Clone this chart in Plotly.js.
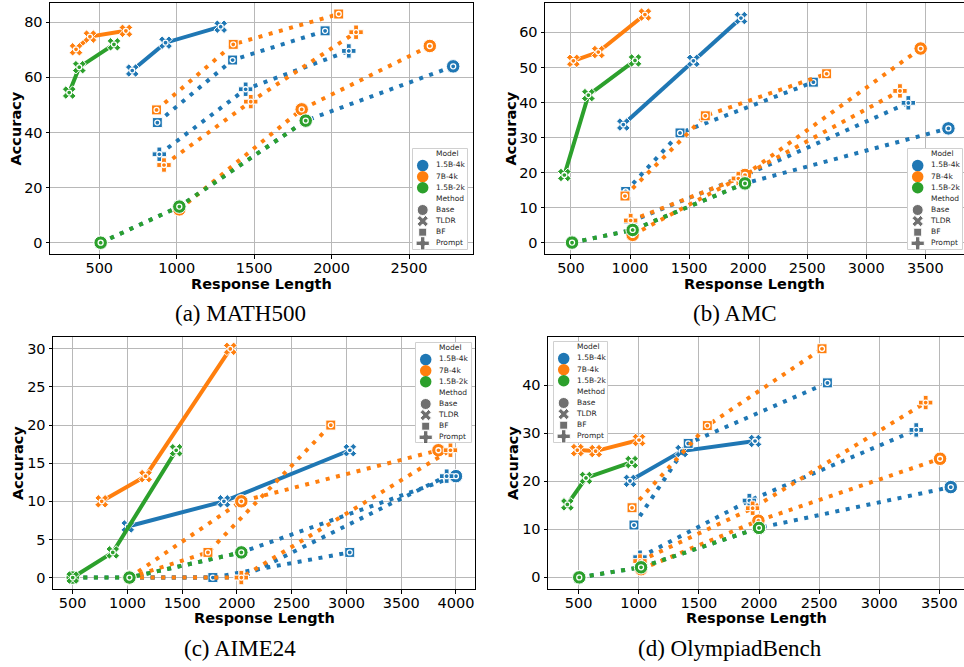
<!DOCTYPE html>
<html><head><meta charset="utf-8">
<script src="https://cdn.plot.ly/plotly-3.0.1.min.js"></script>
<style>html,body{margin:0;padding:0;background:#fff}#chart{width:964px;height:667px}</style>
</head><body><div id="chart"></div>
<script>
// ---------- categories ----------
const models = ['1.5B-4k', '7B-4k', '1.5B-2k'];
const methods = ['Base', 'TLDR', 'BF', 'Prompt'];
const benchmarks = ['MATH500', 'AMC', 'AIME24', 'OlympiadBench'];
const captions = ['(a) MATH500', '(b) AMC', '(c) AIME24', '(d) OlympiadBench'];
const xTitle = 'Response Length';
const yTitle = 'Accuracy';

// ---------- MATH500 ----------
const math_15b4k_base_len = [509, 1017, 1833, 2785];
const math_15b4k_base_acc = [0, 13.1, 44.3, 64.0];
const math_15b4k_tldr_len = [713, 928, 1284];
const math_15b4k_tldr_acc = [62.5, 72.6, 78.4];
const math_15b4k_bf_len = [875, 1361, 1958];
const math_15b4k_bf_acc = [43.6, 66.3, 76.9];
const math_15b4k_prompt_len = [888, 1445, 2111];
const math_15b4k_prompt_acc = [32.1, 55.7, 69.6];
const math_7b4k_base_len = [1017, 1807, 2634];
const math_7b4k_base_acc = [12.1, 48.4, 71.4];
const math_7b4k_tldr_len = [350, 440, 672];
const math_7b4k_tldr_acc = [70.2, 74.8, 76.9];
const math_7b4k_bf_len = [870, 1365, 2046];
const math_7b4k_bf_acc = [48.2, 72.0, 83.0];
const math_7b4k_prompt_len = [918, 1478, 2158];
const math_7b4k_prompt_acc = [28.2, 51.2, 76.4];
const math_15b2k_base_len = [509, 1017, 1833];
const math_15b2k_base_acc = [0, 13.1, 44.3];
const math_15b2k_tldr_len = [306, 371, 595];
const math_15b2k_tldr_acc = [54.5, 63.7, 72.0];

// ---------- AMC ----------
const amc_15b4k_base_len = [509, 1022, 1973, 3695];
const amc_15b4k_base_acc = [0, 3.6, 16.9, 32.6];
const amc_15b4k_tldr_len = [943, 1536, 1939];
const amc_15b4k_tldr_acc = [33.7, 51.9, 64.1];
const amc_15b4k_bf_len = [963, 1423, 2552];
const amc_15b4k_bf_acc = [14.6, 31.3, 45.8];
const amc_15b4k_prompt_len = [1005, 1960, 3356];
const amc_15b4k_prompt_acc = [6.0, 19.0, 39.9];
const amc_7b4k_base_len = [1022, 1973, 3460];
const amc_7b4k_base_acc = [2.2, 19.3, 55.4];
const amc_7b4k_tldr_len = [520, 731, 1126];
const amc_7b4k_tldr_acc = [51.9, 54.4, 65.1];
const amc_7b4k_bf_len = [957, 1637, 2664];
const amc_7b4k_bf_acc = [13.3, 36.2, 48.2];
const amc_7b4k_prompt_len = [1005, 1917, 3285];
const amc_7b4k_prompt_acc = [6.3, 18.3, 43.3];
const amc_15b2k_base_len = [509, 1022, 1973];
const amc_15b2k_base_acc = [0, 3.6, 16.9];
const amc_15b2k_tldr_len = [444, 647, 1042];
const amc_15b2k_tldr_acc = [19.3, 42.1, 52.0];

// ---------- AIME24 ----------
const aime_15b4k_base_len = [500, 1018, 2040, 4000];
const aime_15b4k_base_acc = [0, 0, 3.3, 13.3];
const aime_15b4k_tldr_len = [1003, 1881, 3031];
const aime_15b4k_tldr_acc = [6.7, 10.0, 16.7];
const aime_15b4k_bf_len = [1018, 1780, 3030];
const aime_15b4k_bf_acc = [0, 0, 3.3];
const aime_15b4k_prompt_len = [1018, 2040, 3915];
const aime_15b4k_prompt_acc = [0, 0, 13.3];
const aime_7b4k_base_len = [1018, 2040, 3840];
const aime_7b4k_base_acc = [0, 10.0, 16.7];
const aime_7b4k_tldr_len = [765, 1165, 1939];
const aime_7b4k_tldr_acc = [10.0, 13.3, 30.0];
const aime_7b4k_bf_len = [1018, 1735, 2857];
const aime_7b4k_bf_acc = [0, 3.3, 20.0];
const aime_7b4k_prompt_len = [1018, 2040, 3950];
const aime_7b4k_prompt_acc = [0, 0, 16.7];
const aime_15b2k_base_len = [500, 1018, 2040];
const aime_15b2k_base_acc = [0, 0, 3.3];
const aime_15b2k_tldr_len = [500, 866, 1445];
const aime_15b2k_tldr_acc = [0, 3.3, 16.7];

// ---------- OlympiadBench ----------
const oly_15b4k_base_len = [505, 1019, 2000, 3595];
const oly_15b4k_base_acc = [0, 2.1, 10.3, 18.8];
const oly_15b4k_tldr_len = [927, 1357, 1967];
const oly_15b4k_tldr_acc = [20.1, 26.3, 28.4];
const oly_15b4k_bf_len = [960, 1411, 2569];
const oly_15b4k_bf_acc = [10.9, 27.9, 40.5];
const oly_15b4k_prompt_len = [1010, 1920, 3308];
const oly_15b4k_prompt_acc = [4.2, 16.0, 30.7];
const oly_7b4k_base_len = [1019, 1995, 3506];
const oly_7b4k_base_acc = [1.7, 11.8, 24.7];
const oly_7b4k_tldr_len = [489, 641, 1002];
const oly_7b4k_tldr_acc = [26.5, 26.3, 28.6];
const oly_7b4k_bf_len = [944, 1570, 2524];
const oly_7b4k_bf_acc = [14.5, 31.6, 47.6];
const oly_7b4k_prompt_len = [1010, 1947, 3386];
const oly_7b4k_prompt_acc = [3.4, 14.4, 36.4];
const oly_15b2k_base_len = [505, 1019, 2000];
const oly_15b2k_base_acc = [0, 2.1, 10.3];
const oly_15b2k_tldr_len = [406, 561, 941];
const oly_15b2k_tldr_acc = [15.2, 20.7, 24.0];

// ---------- tick labels ----------
const math_xticks = [500, 1000, 1500, 2000, 2500];
const math_yticks = [0, 20, 40, 60, 80];
const amc_xticks = [500, 1000, 1500, 2000, 2500, 3000, 3500];
const amc_yticks = [0, 10, 20, 30, 40, 50, 60];
const aime_xticks = [500, 1000, 1500, 2000, 2500, 3000, 3500, 4000];
const aime_yticks = [0, 5, 10, 15, 20, 25, 30];
const oly_xticks = [500, 1000, 1500, 2000, 2500, 3000, 3500];
const oly_yticks = [0, 10, 20, 30, 40];

// ---------- table built from the arrays ----------
const table = {
  'MATH500': {
    '1.5B-4k': {Base: [math_15b4k_base_len, math_15b4k_base_acc], TLDR: [math_15b4k_tldr_len, math_15b4k_tldr_acc], BF: [math_15b4k_bf_len, math_15b4k_bf_acc], Prompt: [math_15b4k_prompt_len, math_15b4k_prompt_acc]},
    '7B-4k': {Base: [math_7b4k_base_len, math_7b4k_base_acc], TLDR: [math_7b4k_tldr_len, math_7b4k_tldr_acc], BF: [math_7b4k_bf_len, math_7b4k_bf_acc], Prompt: [math_7b4k_prompt_len, math_7b4k_prompt_acc]},
    '1.5B-2k': {Base: [math_15b2k_base_len, math_15b2k_base_acc], TLDR: [math_15b2k_tldr_len, math_15b2k_tldr_acc]}
  },
  'AMC': {
    '1.5B-4k': {Base: [amc_15b4k_base_len, amc_15b4k_base_acc], TLDR: [amc_15b4k_tldr_len, amc_15b4k_tldr_acc], BF: [amc_15b4k_bf_len, amc_15b4k_bf_acc], Prompt: [amc_15b4k_prompt_len, amc_15b4k_prompt_acc]},
    '7B-4k': {Base: [amc_7b4k_base_len, amc_7b4k_base_acc], TLDR: [amc_7b4k_tldr_len, amc_7b4k_tldr_acc], BF: [amc_7b4k_bf_len, amc_7b4k_bf_acc], Prompt: [amc_7b4k_prompt_len, amc_7b4k_prompt_acc]},
    '1.5B-2k': {Base: [amc_15b2k_base_len, amc_15b2k_base_acc], TLDR: [amc_15b2k_tldr_len, amc_15b2k_tldr_acc]}
  },
  'AIME24': {
    '1.5B-4k': {Base: [aime_15b4k_base_len, aime_15b4k_base_acc], TLDR: [aime_15b4k_tldr_len, aime_15b4k_tldr_acc], BF: [aime_15b4k_bf_len, aime_15b4k_bf_acc], Prompt: [aime_15b4k_prompt_len, aime_15b4k_prompt_acc]},
    '7B-4k': {Base: [aime_7b4k_base_len, aime_7b4k_base_acc], TLDR: [aime_7b4k_tldr_len, aime_7b4k_tldr_acc], BF: [aime_7b4k_bf_len, aime_7b4k_bf_acc], Prompt: [aime_7b4k_prompt_len, aime_7b4k_prompt_acc]},
    '1.5B-2k': {Base: [aime_15b2k_base_len, aime_15b2k_base_acc], TLDR: [aime_15b2k_tldr_len, aime_15b2k_tldr_acc]}
  },
  'OlympiadBench': {
    '1.5B-4k': {Base: [oly_15b4k_base_len, oly_15b4k_base_acc], TLDR: [oly_15b4k_tldr_len, oly_15b4k_tldr_acc], BF: [oly_15b4k_bf_len, oly_15b4k_bf_acc], Prompt: [oly_15b4k_prompt_len, oly_15b4k_prompt_acc]},
    '7B-4k': {Base: [oly_7b4k_base_len, oly_7b4k_base_acc], TLDR: [oly_7b4k_tldr_len, oly_7b4k_tldr_acc], BF: [oly_7b4k_bf_len, oly_7b4k_bf_acc], Prompt: [oly_7b4k_prompt_len, oly_7b4k_prompt_acc]},
    '1.5B-2k': {Base: [oly_15b2k_base_len, oly_15b2k_base_acc], TLDR: [oly_15b2k_tldr_len, oly_15b2k_tldr_acc]}
  }
};
const ticks = {
  'MATH500': [math_xticks, math_yticks],
  'AMC': [amc_xticks, amc_yticks],
  'AIME24': [aime_xticks, aime_yticks],
  'OlympiadBench': [oly_xticks, oly_yticks]
};

// ---------- styles & layout geometry ----------
const W = 964, H = 667;
const COLORS = {'1.5B-4k': '#1f77b4', '7B-4k': '#ff7f0e', '1.5B-2k': '#2ca02c'};
const SYMBOLS = {Base: 'circle', TLDR: 'x', BF: 'square', Prompt: 'cross'};
const SIZES = {Base: 13.5, TLDR: 12, BF: 10, Prompt: 12};
const LEG_SIZES = {Base: 11, TLDR: 10, BF: 8, Prompt: 11};
const DOT = '4px,6.6px';

// plot boxes in pixels [left, top, right, bottom], axis ranges, legend boxes, caption centre,
// x-title centre y, y-title centre x
const geom = [
  {box: [50, 3, 473, 254],  xr: [182, 2913], yr: [-4.1, 87.0],  leg: [412, 148, 468, 250], cap: [240, 313], xt: 284, yt: 15},
  {box: [545, 3, 964, 254], xr: [280, 3827], yr: [-3.26, 68.4], leg: [907, 148, 963, 250], cap: [735, 313], xt: 284, yt: 510},
  {box: [53, 337, 475, 589], xr: [320, 4174], yr: [-1.5, 31.55], leg: [415, 342, 472, 443], cap: [240, 648], xt: 618, yt: 18},
  {box: [548, 337, 964, 589], xr: [245, 3705], yr: [-2.42, 50.05], leg: [553, 341, 608, 443], cap: [730, 648], xt: 618, yt: 513}
];

const traces = [];
const layout = {
  width: W, height: H,
  margin: {l: 0, r: 0, t: 0, b: 0},
  paper_bgcolor: '#ffffff', plot_bgcolor: '#ffffff',
  showlegend: false, hovermode: false,
  font: {family: 'DejaVu Sans', color: '#000000'},
  annotations: []
};
const titleFont = {family: 'DejaVu Sans', size: 14.5, weight: 'bold', color: '#000000'};

benchmarks.forEach((bm, i) => {
  const g = geom[i];
  const n = i + 1;
  const xa = n === 1 ? 'x' : 'x' + n;
  const ya = n === 1 ? 'y' : 'y' + n;
  const axisCommon = {
    showline: true, mirror: true, linecolor: '#000000', linewidth: 1,
    showgrid: true, gridcolor: '#b8b8b8', gridwidth: 1,
    zeroline: false, ticks: 'outside', ticklen: 3.5, tickwidth: 1, tickcolor: '#000000',
    tickfont: {family: 'DejaVu Sans', size: 14.5, color: '#000000'},
    automargin: false, fixedrange: true
  };
  layout['xaxis' + (n === 1 ? '' : n)] = Object.assign({}, axisCommon, {
    domain: [g.box[0] / W, g.box[2] / W], range: g.xr, anchor: ya,
    tickmode: 'array', tickvals: ticks[bm][0], ticktext: ticks[bm][0].map(String),
    ticklabelstandoff: -3
  });
  layout['yaxis' + (n === 1 ? '' : n)] = Object.assign({}, axisCommon, {
    domain: [1 - g.box[3] / H, 1 - g.box[1] / H], range: g.yr, anchor: xa,
    tickmode: 'array', tickvals: ticks[bm][1], ticktext: ticks[bm][1].map(String)
  });

  // axis titles
  layout.annotations.push({
    xref: xa + ' domain', yref: 'paper', x: 0.5, y: 1 - g.xt / H,
    xanchor: 'center', yanchor: 'middle', showarrow: false, text: xTitle, font: titleFont
  });
  layout.annotations.push({
    xref: 'paper', yref: ya + ' domain', x: g.yt / W, y: 0.5, textangle: -90,
    xanchor: 'center', yanchor: 'middle', showarrow: false, text: yTitle, font: titleFont
  });

  // data traces
  models.forEach(m => {
    methods.forEach(me => {
      const s = table[bm][m][me];
      if (!s) return;
      traces.push({
        type: 'scatter', mode: 'lines+markers', x: s[0], y: s[1], xaxis: xa, yaxis: ya,
        line: {color: COLORS[m], width: 4, dash: me === 'TLDR' ? 'solid' : DOT},
        marker: {symbol: SYMBOLS[me], size: SIZES[me], color: COLORS[m], line: {color: '#ffffff', width: 1}},
        showlegend: false, hoverinfo: 'skip'
      });
      traces.push({
        type: 'scatter', mode: 'markers', x: s[0], y: s[1], xaxis: xa, yaxis: ya,
        marker: {symbol: 'circle-open', size: 5, color: '#ffffff', line: {color: '#ffffff', width: 1.3}},
        showlegend: false, hoverinfo: 'skip'
      });
    });
  });

  // legend drawn on an auxiliary pixel axis
  const ln = n + 4;
  const [l, t, r, b] = g.leg;
  const w = r - l, h = b - t;
  layout['xaxis' + ln] = {domain: [l / W, r / W], range: [0, w], visible: false, fixedrange: true, anchor: 'y' + ln};
  layout['yaxis' + ln] = {domain: [1 - b / H, 1 - t / H], range: [h, 0], visible: false, fixedrange: true, anchor: 'x' + ln};
  traces.push({
    type: 'scatter', mode: 'lines', x: [0.5, w - 0.5, w - 0.5, 0.5, 0.5], y: [0.5, 0.5, h - 0.5, h - 0.5, 0.5],
    xaxis: 'x' + ln, yaxis: 'y' + ln, fill: 'toself', fillcolor: 'rgba(255,255,255,0.85)',
    line: {color: '#d0d0d0', width: 1}, showlegend: false, hoverinfo: 'skip'
  });
  const rows = ['Model'].concat(models, ['Method'], methods);
  const rowY = rows.map((_, k) => 6.5 + k * 11.1);
  traces.push({
    type: 'scatter', mode: 'markers', xaxis: 'x' + ln, yaxis: 'y' + ln,
    x: models.map(() => 10.7), y: models.map((_, k) => rowY[1 + k]),
    marker: {symbol: 'circle', size: 11.5, color: models.map(m => COLORS[m])},
    showlegend: false, hoverinfo: 'skip'
  });
  traces.push({
    type: 'scatter', mode: 'markers', xaxis: 'x' + ln, yaxis: 'y' + ln,
    x: methods.map(() => 10.7), y: methods.map((_, k) => rowY[5 + k]),
    marker: {symbol: methods.map(me => SYMBOLS[me]), size: methods.map(me => LEG_SIZES[me]), color: '#333333'},
    showlegend: false, hoverinfo: 'skip'
  });
  traces.push({
    type: 'scatter', mode: 'text', xaxis: 'x' + ln, yaxis: 'y' + ln,
    x: rows.map(() => 24), y: rowY, text: rows, textposition: 'middle right',
    textfont: {family: 'DejaVu Sans', size: 7.5, color: '#262626'}, cliponaxis: false,
    showlegend: false, hoverinfo: 'skip'
  });

  // caption
  layout.annotations.push({
    xref: 'paper', yref: 'paper', x: g.cap[0] / W, y: 1 - g.cap[1] / H,
    xanchor: 'center', yanchor: 'middle', showarrow: false, text: captions[i],
    font: {family: 'Liberation Serif', size: 23, color: '#000000'}
  });
});

Plotly.newPlot('chart', traces, layout, {displayModeBar: false, staticPlot: true});
</script>
</body></html>
